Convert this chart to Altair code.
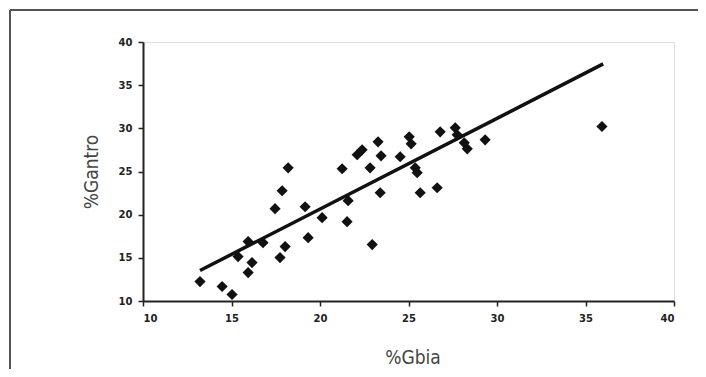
import altair as alt
import pandas as pd

# %Gbia (x) and %Gantro (y)
gbia = [13.22, 14.47, 15.03, 15.37, 15.94, 16.16, 15.94, 16.78, 17.46, 17.86,
        18.20, 18.03, 17.74, 19.16, 19.33, 20.12, 21.25, 21.53, 22.10, 22.38,
        22.83, 22.95, 23.28, 23.45, 23.40, 24.53, 25.04, 25.15, 25.38, 25.49,
        25.66, 26.62, 26.79, 27.64, 27.75, 28.15, 28.32, 29.33, 35.93, 21.59]
gantro = [12.25, 11.68, 10.75, 15.14, 16.88, 14.45, 13.29, 16.76, 20.69, 22.77,
          25.43, 16.30, 15.03, 20.92, 17.34, 19.65, 25.32, 19.19, 26.94, 27.51,
          25.43, 16.53, 28.44, 26.82, 22.54, 26.71, 29.02, 28.21, 25.43, 24.86,
          22.54, 23.12, 29.60, 30.06, 29.25, 28.32, 27.63, 28.67, 30.21, 21.62]

# fitted trend line end points
line_x = [13.22, 36.0]
line_y = [13.53, 37.46]

tick_values = [10, 15, 20, 25, 30, 35, 40]

pts = pd.DataFrame({"gbia": gbia, "gantro": gantro})
fit = pd.DataFrame({"gbia": line_x, "gantro": line_y})

W, H = 531, 259
title_font = "Liberation Sans Narrow, DejaVu Sans Condensed, sans-serif"

xscale = alt.Scale(domain=[10, 40], nice=False, zero=False)
yscale = alt.Scale(domain=[10, 40], nice=False, zero=False)

xaxis = alt.Axis(values=tick_values, title="%Gbia", grid=False,
                 domainColor="#222", domainWidth=2, tickColor="#222",
                 tickWidth=1.5, tickSize=5, labelFont="DejaVu Sans",
                 labelFontWeight="bold", labelFontSize=10, labelColor="#222",
                 labelPadding=7, titleFont=title_font, titleFontSize=19,
                 titleFontWeight="normal", titleColor="#444",
                 titleX=W / 2 + 4, titleY=62, titleBaseline="alphabetic",
                 titleAlign="center")
yaxis = alt.Axis(values=tick_values, title="%Gantro", grid=False,
                 domainColor="#222", domainWidth=2, tickColor="#222",
                 tickWidth=1.5, tickSize=5, labelFont="DejaVu Sans",
                 labelFontWeight="bold", labelFontSize=10, labelColor="#222",
                 labelPadding=6, titleFont=title_font, titleFontSize=19,
                 titleFontWeight="normal", titleColor="#444",
                 titleX=-46, titleY=H / 2, titleAngle=270,
                 titleBaseline="alphabetic", titleAlign="center")

points = alt.Chart(pts).mark_point(
    shape="diamond", filled=True, size=125, color="#111", opacity=1
).encode(
    x=alt.X("gbia:Q", scale=xscale, axis=xaxis),
    y=alt.Y("gantro:Q", scale=yscale, axis=yaxis),
)

trend = alt.Chart(fit).mark_line(color="#111", strokeWidth=3.5).encode(
    x=alt.X("gbia:Q", scale=xscale),
    y=alt.Y("gantro:Q", scale=yscale),
)

frame_left = alt.Chart(pts).mark_rule(color="#555", strokeWidth=1).encode(
    x=alt.value(-133), y=alt.value(-32), y2=alt.value(H + 70)
)
frame_top = alt.Chart(pts).mark_rule(color="#555", strokeWidth=1).encode(
    y=alt.value(-32), x=alt.value(-133), x2=alt.value(W + 30)
)

chart = alt.layer(frame_left, frame_top, trend, points).properties(
    width=W, height=H,
    autosize=alt.AutoSizeParams(type="none"),
    padding={"left": 135, "top": 34, "right": 24, "bottom": 68},
).configure_view(stroke=None).configure(background="white")

chart.save("out.html", embed_options={"renderer": "svg", "actions": False})
